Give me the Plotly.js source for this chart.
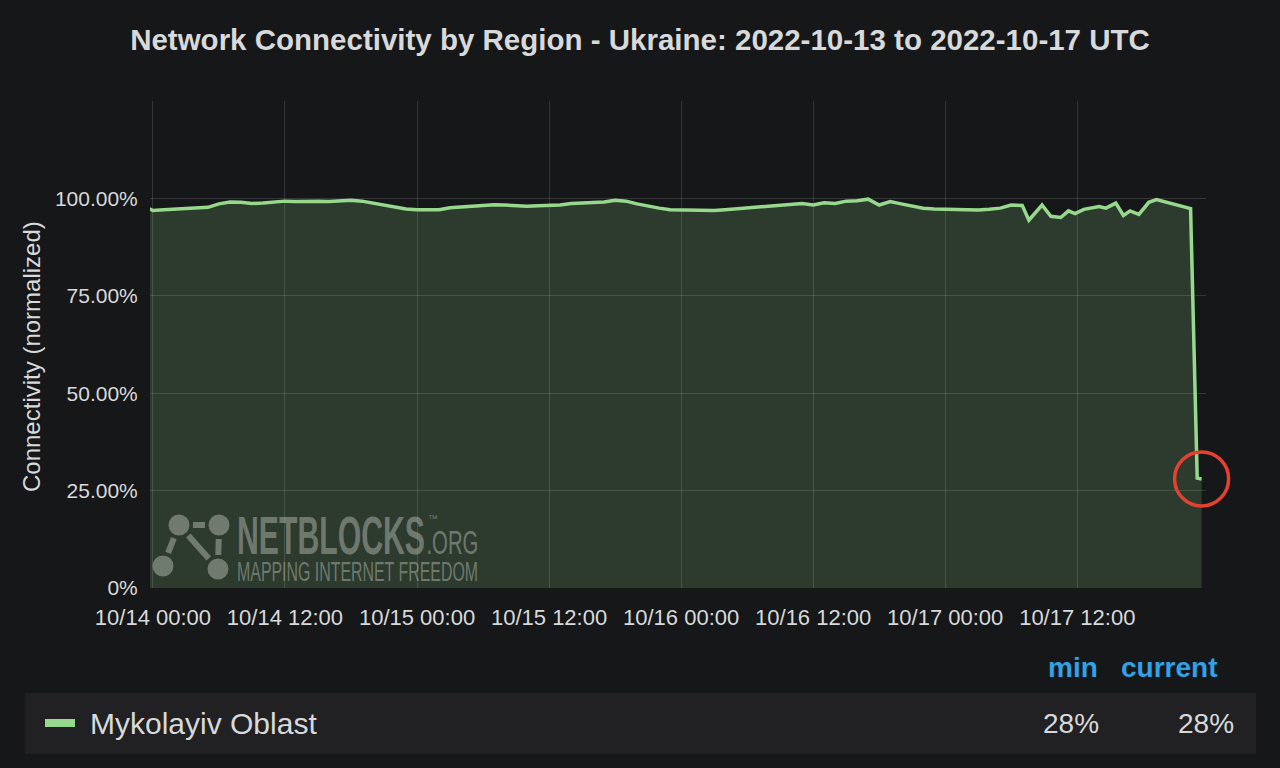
<!DOCTYPE html>
<html>
<head>
<meta charset="utf-8">
<script src="https://cdn.plot.ly/plotly-3.0.1.min.js"></script>
<style>
html,body{margin:0;padding:0;background:#161719;}
#chart{width:1280px;height:768px;}
</style>
</head>
<body>
<div id="chart"></div>
<script>
// ---- DATA ----
const seriesName = "Mykolayiv Oblast";
const startDateUTC = [2022, 9, 14, 0, 0]; // 2022-10-14 00:00 UTC (hour offsets below are relative to it)
const hoursFromStart = [
  -0.3, 0, 1, 2, 3, 4, 5, 6, 7, 8, 9, 10, 11, 12, 13, 14, 15,
  16, 17, 18, 19, 20, 21, 22, 23, 24, 25, 26, 27, 28, 29, 30, 31,
  32, 33, 34, 35, 36, 37, 38, 39, 40, 41, 42, 43, 44, 45, 46, 47,
  48, 49, 50, 51, 52, 53, 54, 55, 56, 57, 58, 59, 60, 61, 62, 63,
  64, 65, 66, 67, 68, 69, 70, 71, 72, 73, 74, 75, 76, 77, 78, 79,
  79.6, 80.8, 81.6, 82.5, 83.2, 83.8, 84.6, 86.0, 86.6, 87.5, 88.2, 88.8, 89.6,
  90.5, 91.2, 92.0, 92.7, 94.3, 94.9, 95.3
];
const connectivity = [
  97.3, 96.9, 97.1, 97.2, 97.3, 97.6, 97.7, 98.6, 99.1, 99.0, 98.7, 98.8, 99.1, 99.3, 99.2, 99.3, 99.3,
  99.2, 99.4, 99.5, 99.3, 98.8, 98.2, 97.6, 97.3, 97.1, 97.0, 97.1, 97.6, 97.8, 97.9, 98.1, 98.4,
  98.3, 98.1, 98.0, 98.1, 98.2, 98.3, 98.7, 98.8, 98.9, 99.1, 99.5, 99.3, 98.6, 98.0, 97.5, 97.1,
  97.0, 97.0, 96.9, 96.9, 97.1, 97.3, 97.6, 97.9, 98.1, 98.3, 98.5, 98.7, 98.3, 98.9, 98.7, 99.3,
  99.4, 99.8, 98.3, 99.2, 98.6, 98.0, 97.5, 97.3, 97.2, 97.1, 97.1, 97.0, 97.2, 97.5, 98.3, 98.2,
  94.4, 98.3, 95.4, 95.1, 96.8, 96.1, 97.2, 97.9, 97.5, 98.8, 95.6, 96.8, 95.9,
  99.0, 99.7, 99.1, 98.5, 97.4, 28.2, 28.0
];
const yTickVals = [0, 25, 50, 75, 100, 125];
const yTickText = ["0%", "25.00%", "50.00%", "75.00%", "100.00%", ""];
const xRangeHours = [-0.267, 95.7];
const yRange = [0, 125];
const legendHeaders = ["min", "current"];
const legendValues = ["28%", "28%"];
const titleText = "Network Connectivity by Region - Ukraine: 2022-10-13 to 2022-10-17 UTC";
const yTitleText = "Connectivity (normalized)";

// ---- BUILD ----
const H = 3600000;
const base = Date.UTC.apply(null, startDateUTC);
const xs = hoursFromStart.map(h => base + h * H);
const xRange = [base + xRangeHours[0] * H, base + xRangeHours[1] * H];
const lastX = xs[xs.length - 1];
const lastY = connectivity[connectivity.length - 1];

const W = 1280, HT = 768;
const L = 150, R = 1206, T = 101, B = 588;
const px = x => (x - L) / (R - L);
const py = y => (B - y) / (B - T);

const FONT = "Liberation Sans, Arial, Helvetica, sans-serif";
const TXT = "#d8d9da";
const GREEN = "#96d98d";
const WM = "rgba(205,210,200,0.42)";

const trace = {
  type: "scatter",
  mode: "lines",
  x: xs,
  y: connectivity,
  name: seriesName,
  line: {color: GREEN, width: 3.5},
  fill: "tozeroy",
  fillcolor: "rgba(150,217,141,0.19)",
  hoverinfo: "skip"
};

const shapes = [];
const annotations = [];

// red highlight circle around the final value (paper coords so it is not clipped)
const lastPx = (lastX - xRange[0]) / (xRange[1] - xRange[0]);
const lastPy = (lastY - yRange[0]) / (yRange[1] - yRange[0]);
const cr = 27;
shapes.push({
  type: "circle", xref: "paper", yref: "paper",
  x0: lastPx - cr / (R - L), x1: lastPx + cr / (R - L),
  y0: lastPy - cr / (B - T), y1: lastPy + cr / (B - T),
  line: {color: "#e5412e", width: 3.5},
  fillcolor: "rgba(0,0,0,0)",
  layer: "above"
});

// watermark icon (nodes + links)
const nodes = [[179, 525], [219, 525], [163, 566], [218, 569]];
const links = [[0, 1], [0, 3], [1, 3], [0, 2]];
links.forEach(([a, b]) => {
  const [x1, y1] = nodes[a], [x2, y2] = nodes[b];
  const dx = x2 - x1, dy = y2 - y1, len = Math.hypot(dx, dy);
  const ux = dx / len, uy = dy / len, g = 14;
  shapes.push({
    type: "line", xref: "paper", yref: "paper",
    x0: px(x1 + ux * g), y0: py(y1 + uy * g),
    x1: px(x2 - ux * g), y1: py(y2 - uy * g),
    line: {color: WM, width: 6}, layer: "above"
  });
});
nodes.forEach(([cx, cy]) => {
  const r = 10.5;
  shapes.push({
    type: "circle", xref: "paper", yref: "paper",
    x0: px(cx - r), x1: px(cx + r), y0: py(cy + r), y1: py(cy - r),
    fillcolor: WM, line: {width: 0}, layer: "above"
  });
});
// watermark words: [text, centerX, centerY, size, bold, squeezed width]
const wmTexts = [
  ["NETBLOCKS", 331, 535, 54, true, 188],
  [".ORG", 452, 542, 34, false, 52],
  ["™", 433, 518, 10, false, 0],
  ["MAPPING INTERNET FREEDOM", 357, 572, 27, false, 241]
];
wmTexts.forEach(([t, cx, cy, s, b]) => annotations.push({
  xref: "paper", yref: "paper", x: px(cx), y: py(cy), xanchor: "center", yanchor: "middle",
  text: b ? "<b>" + t + "</b>" : t, showarrow: false,
  font: {family: FONT, size: s, color: WM}
}));

// y axis title
annotations.push({
  xref: "paper", yref: "paper", x: px(31), y: py(357), xanchor: "center", yanchor: "middle",
  text: yTitleText, textangle: -90, showarrow: false,
  font: {family: FONT, size: 24, color: TXT}
});

// legend table
shapes.push({
  type: "rect", xref: "paper", yref: "paper",
  x0: px(25), x1: px(1256), y0: py(754), y1: py(693),
  fillcolor: "#212124", line: {width: 0}, layer: "below"
});
shapes.push({
  type: "rect", xref: "paper", yref: "paper",
  x0: px(45), x1: px(75), y0: py(727), y1: py(719),
  fillcolor: GREEN, line: {width: 0}, layer: "above"
});
annotations.push({
  xref: "paper", yref: "paper", x: px(88), y: py(723), xanchor: "left", yanchor: "middle",
  text: seriesName, showarrow: false, font: {family: FONT, size: 30, color: TXT}
});
const headerRight = [1100, 1219];
const valueRight = [1101, 1236];
legendHeaders.forEach((h, i) => annotations.push({
  xref: "paper", yref: "paper", x: px(headerRight[i]), y: py(667), xanchor: "right", yanchor: "middle",
  text: "<b>" + h + "</b>", showarrow: false, font: {family: FONT, size: 28, color: "#33a2e5"}
}));
legendValues.forEach((v, i) => annotations.push({
  xref: "paper", yref: "paper", x: px(valueRight[i]), y: py(723), xanchor: "right", yanchor: "middle",
  text: v, showarrow: false, font: {family: FONT, size: 28, color: TXT}
}));

const layout = {
  width: W, height: HT,
  paper_bgcolor: "#161719",
  plot_bgcolor: "#161719",
  margin: {l: L, r: W - R, t: T, b: HT - B, pad: 0},
  showlegend: false,
  title: {
    text: "<b>" + titleText + "</b>",
    x: 0.5, xref: "container", xanchor: "center",
    y: 1 - 40 / HT, yref: "container", yanchor: "middle",
    font: {family: FONT, size: 29.5, color: TXT}
  },
  xaxis: {
    type: "date",
    range: xRange,
    tick0: base, dtick: 12 * H,
    tickformat: "%m/%d %H:%M",
    showgrid: true, gridcolor: "rgba(255,255,255,0.13)", gridwidth: 1,
    zeroline: false, showline: false,
    ticks: "outside", ticklen: 10, tickcolor: "rgba(0,0,0,0)",
    tickfont: {family: FONT, size: 22, color: TXT},
    fixedrange: true
  },
  yaxis: {
    range: yRange,
    tickmode: "array", tickvals: yTickVals, ticktext: yTickText,
    showgrid: true, gridcolor: "rgba(255,255,255,0.13)", gridwidth: 1,
    zeroline: false, showline: false,
    ticks: "outside", ticklen: 7, tickcolor: "rgba(0,0,0,0)",
    tickfont: {family: FONT, size: 21, color: TXT},
    fixedrange: true
  },
  shapes: shapes,
  annotations: annotations
};

Plotly.newPlot("chart", [trace], layout, {displayModeBar: false, staticPlot: true}).then(gd => {
  // squeeze watermark words horizontally to match the condensed logo type
  gd.querySelectorAll(".annotation-text").forEach(el => {
    const w = wmTexts.find(d => d[0] === el.textContent && d[5] > 0);
    if (w) {
      el.setAttribute("textLength", w[5]);
      el.setAttribute("lengthAdjust", "spacingAndGlyphs");
    }
  });
});
</script>
</body>
</html>
